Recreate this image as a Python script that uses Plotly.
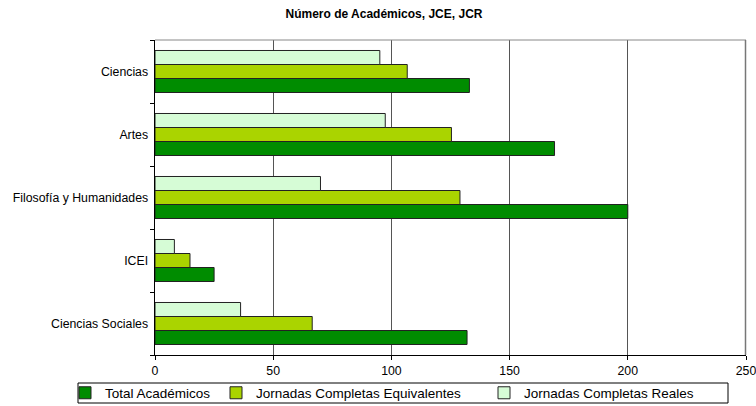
import plotly.graph_objects as go

categories = ["Ciencias", "Artes", "Filosofía y Humanidades", "ICEI", "Ciencias Sociales"]
total_academicos = [133, 169, 200, 25, 132]
jce = [106.7, 125.4, 129, 14.8, 66.5]
jcr = [95.1, 97.4, 70, 8.2, 36.2]
x_ticks = [0, 50, 100, 150, 200, 250]

FONT = "Liberation Sans, Arial, sans-serif"

# layout geometry (pixels)
W, H = 756, 406
ML, MR, MT, MB = 155, 10, 40, 51
PW, PH = W - ML - MR, H - MT - MB


def px_x(p):
    return (p - ML) / PW


def px_y(p):
    return (H - MB - p) / PH


fig = go.Figure()
series = [
    ("Total Académicos", total_academicos, "#008C00", "legend", 65),
    ("Jornadas Completas Equivalentes", jce, "#AAD400", "legend2", 216),
    ("Jornadas Completas Reales", jcr, "#D6FCD6", "legend3", 484),
]
legends = {}
for name, vals, col, leg, lx in series:
    fig.add_trace(go.Bar(
        y=categories, x=vals, name=name, orientation="h",
        marker=dict(color=col, line=dict(color="#222222", width=1)),
        legend=leg,
    ))
    legends[leg] = dict(orientation="h", x=px_x(lx), xanchor="left",
                        y=px_y(393), yanchor="middle",
                        borderwidth=0, bgcolor="rgba(0,0,0,0)",
                        font=dict(family=FONT, size=13.5, color="#000000"))

fig.update_layout(
    width=W, height=H,
    margin=dict(l=ML, r=MR, t=MT, b=MB, autoexpand=False),
    paper_bgcolor="white", plot_bgcolor="white",
    barmode="group", bargap=0.333, bargroupgap=0,
    font=dict(family=FONT, size=12.3, color="#000000"),
    title=dict(text="<b>Número de Académicos, JCE, JCR</b>",
               font=dict(family=FONT, size=12, color="#000000"),
               x=384 / W, xanchor="center", xref="container",
               y=1 - 14 / H, yanchor="middle", yref="container"),
    showlegend=True,
    legend=legends["legend"], legend2=legends["legend2"], legend3=legends["legend3"],
    xaxis=dict(range=[0, 250], tickvals=x_ticks, ticktext=[str(v) for v in x_ticks],
               showgrid=True, gridcolor="#555555", gridwidth=1,
               showline=True, linecolor="#000000", linewidth=1,
               ticks="outside", ticklen=4, tickcolor="#000000",
               zeroline=False, automargin=False, ticklabeloverflow="allow"),
    yaxis=dict(categoryorder="array", categoryarray=categories[::-1],
               showline=True, linecolor="#000000", linewidth=1,
               ticks="outside", ticklen=4, tickcolor="#000000", tickson="boundaries",
               showgrid=False, zeroline=False, ticksuffix=" ", automargin=False),
    shapes=[
        dict(type="line", xref="paper", yref="paper", x0=0, x1=1, y0=1, y1=1,
             line=dict(color="#888888", width=1)),
        dict(type="line", xref="paper", yref="paper", x0=px_x(745.5), x1=px_x(745.5),
             y0=0, y1=1, line=dict(color="#777777", width=1.5)),
        dict(type="rect", xref="paper", yref="paper",
             x0=px_x(78), x1=px_x(728), y0=px_y(403), y1=px_y(383),
             line=dict(color="#000000", width=1), fillcolor="rgba(0,0,0,0)"),
    ],
)

fig.write_html("out.html")
